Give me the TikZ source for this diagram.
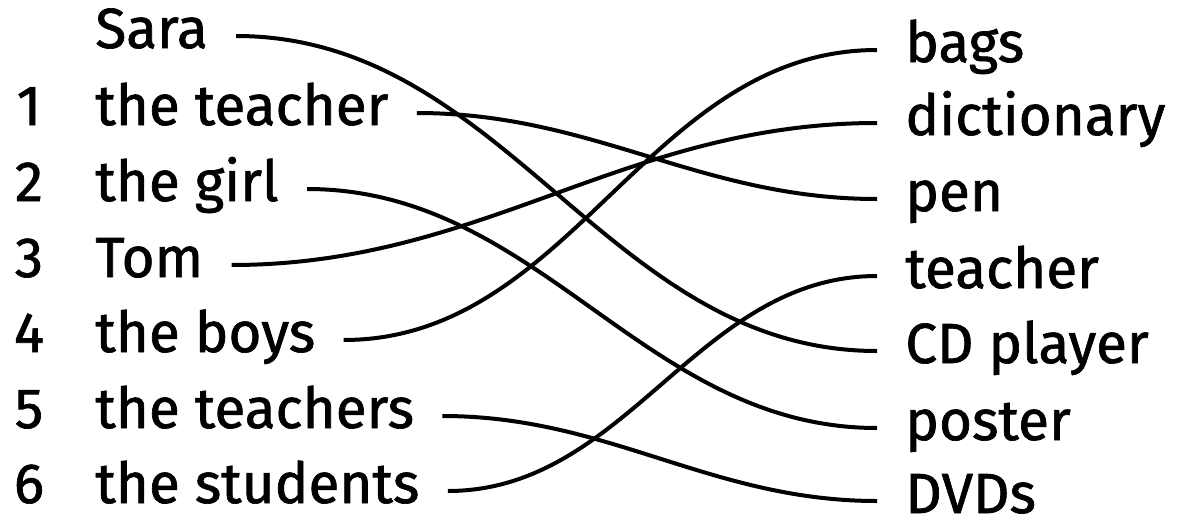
\documentclass[tikz,border=0pt]{standalone}
\usepackage{fontspec}
\setmainfont{Fira Sans}[FakeBold=1.2]
\usetikzlibrary{positioning}
\tikzset{
  word/.style={inner sep=0pt, text height=14pt, text depth=2pt,
               font=\fontsize{28.3}{31}\selectfont, anchor=base west},
  num/.style={word, anchor=base},
  link/.style={line width=2pt, shorten <=14pt, shorten >=14pt},
}

\begin{document}
\begin{tikzpicture}[x=0.5pt, y=-0.5pt]
  \useasboundingbox (0,0) rectangle (1178,525);

  % the people on the left
  \foreach \i/\y/\txt in {0/48/{Sara}, 1/125/{the teacher}, 2/201/{the girl},
                          3/277/{Tom}, 4/352/{the boys}, 5/428/{the teachers},
                          6/503/{the students}} {
    \node[word] (who\i) at (95,\y) {\txt};
  }
  \foreach \i/\y in {1/125, 2/201, 3/277, 4/352, 5/428, 6/503} {
    \node[num] (num\i) at (29,\y) {\i};
  }

  % the things on the right
  \foreach \i/\y/\txt in {0/62/{bags}, 1/135/{dictionary}, 2/211/{pen},
                          3/288/{teacher}, 4/363/{CD player}, 5/440/{poster},
                          6/513/{DVDs}} {
    \node[word] (thing\i) at (905,\y) {\txt};
  }

  % the matching lines
  \foreach \a/\b in {0/4, 1/2, 2/5, 3/1, 4/0, 5/6, 6/3} {
    \draw[link] (who\a.east) to[out=0, in=180] (thing\b.west);
  }

\end{tikzpicture}
\end{document}
